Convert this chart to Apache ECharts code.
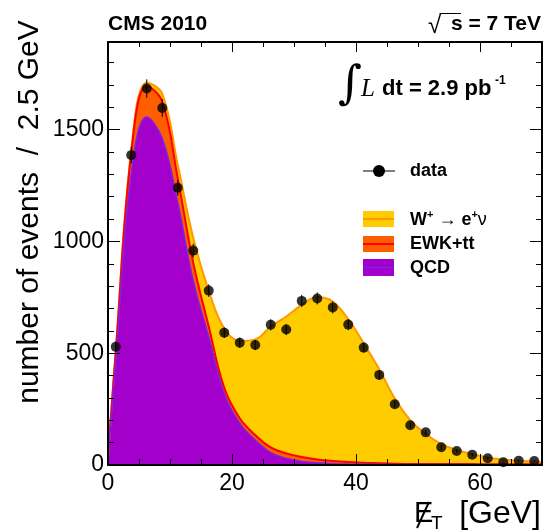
<!DOCTYPE html>
<html>
<head>
<meta charset="utf-8">
<script src="https://cdn.jsdelivr.net/npm/echarts@6/dist/echarts.min.js"></script>
<style>
  html, body { margin: 0; padding: 0; background: #fff; }
  #chart { width: 544px; height: 532px; }
</style>
</head>
<body>
<div id="chart"></div>
<script>
// data points (bin centres, 2.5 GeV bins)
var binCenters = [1.25, 3.75, 6.25, 8.75, 11.25, 13.75, 16.25, 18.75, 21.25, 23.75, 26.25, 28.75, 31.25, 33.75,
  36.25, 38.75, 41.25, 43.75, 46.25, 48.75, 51.25, 53.75, 56.25, 58.75, 61.25, 63.75, 66.25, 68.75];
var dataCounts = [529, 1386, 1684, 1597, 1240, 959, 780, 592, 547, 537, 627, 606, 734, 745,
  705, 628, 525, 403, 272, 178, 146, 79, 63, 46, 30, 12, 19, 18];
var dataErrors = [23, 37, 41, 40, 35, 31, 28, 24, 23, 23, 25, 25, 27, 27,
  27, 25, 23, 20, 16, 13, 12, 9, 8, 7, 5, 3, 4, 4];

// smoothed MC curves, per component (QCD, EWK+tt, W -> e nu)
var mcX = [0, 1.25, 3.75, 6.25, 8.75, 11.25, 13.75, 16.25, 18.75, 21.25, 23.75, 26.25, 28.75, 31.25, 33.75,
  36.25, 38.75, 41.25, 43.75, 46.25, 48.75, 51.25, 53.75, 56.25, 58.75, 61.25, 63.75, 66.25, 68.75, 70];
var qcd = [35, 470, 1305, 1556, 1460, 1173, 825, 574, 320, 187, 112, 55, 30, 16, 10,
  6, 4, 3, 3, 2, 2, 2, 2, 2, 2, 2, 2, 2, 2, 2];
var ewk = [5, 35, 89, 139, 165, 110, 80, 45, 25, 22, 22, 24, 22, 20, 15,
  12, 9, 7, 5, 4, 3, 3, 2, 2, 2, 1, 1, 1, 1, 1];
var wenu = [2, 8, 15, 15, 35, 60, 110, 160, 265, 346, 428, 540, 612, 680, 726,
  713, 639, 535, 420, 292, 196, 134, 90, 63, 45, 31, 22, 16, 12, 10];

var xMax = 70, yMax = 1892;
var font = "'Liberation Sans', Arial, Helvetica, sans-serif";

var cQcd = '#a400cc', cQcdLine = '#7a22e6';
var cEwk = '#ff5e00', cEwkLine = '#ff0000';
var cW = '#ffcc00', cWLine = '#ff9900';

// stack by hand: each layer is drawn opaque from zero, top layer first
var ewkTop = qcd.map(function(v, i) { return v + ewk[i]; });
var total = ewkTop.map(function(v, i) { return v + wenu[i]; });

function pairs(xs, ys) { return xs.map(function(x, i) { return [x, ys[i]]; }); }

var chart = echarts.init(document.getElementById('chart'), null, { renderer: 'canvas' });

var tickLabel = { color: '#000', fontFamily: font, fontSize: 23 };
function fmt(v) { return String(v); }
function frameLine(show) { return { show: show, onZero: false, lineStyle: { color: '#000', width: 2 } }; }
function ticks(len) { return { show: true, inside: true, length: len, lineStyle: { color: '#000', width: 1 } }; }

chart.setOption({
  animation: false,
  backgroundColor: '#fff',
  grid: { left: 108, right: 2, top: 42, bottom: 67, containLabel: false },
  xAxis: [
    { type: 'value', position: 'bottom', min: 0, max: xMax, interval: 20, z: 10,
      axisLine: frameLine(true), axisTick: ticks(11),
      axisLabel: Object.assign({ margin: 7, showMaxLabel: false, formatter: fmt }, tickLabel),
      splitLine: { show: false } },
    { type: 'value', position: 'bottom', min: 0, max: xMax, interval: 5, z: 10,
      axisLine: frameLine(false), axisTick: ticks(6), axisLabel: { show: false }, splitLine: { show: false } },
    { type: 'value', position: 'top', min: 0, max: xMax, interval: 20, z: 10,
      axisLine: frameLine(true), axisTick: ticks(10), axisLabel: { show: false }, splitLine: { show: false } },
    { type: 'value', position: 'top', min: 0, max: xMax, interval: 5, z: 10,
      axisLine: frameLine(false), axisTick: ticks(5), axisLabel: { show: false }, splitLine: { show: false } }
  ],
  yAxis: [
    { type: 'value', position: 'left', min: 0, max: yMax, interval: 500, z: 10,
      axisLine: frameLine(true), axisTick: ticks(12),
      axisLabel: Object.assign({ margin: 4, showMaxLabel: false, formatter: fmt }, tickLabel),
      splitLine: { show: false } },
    { type: 'value', position: 'left', min: 0, max: yMax, interval: 100, z: 10,
      axisLine: frameLine(false), axisTick: ticks(6), axisLabel: { show: false }, splitLine: { show: false } },
    { type: 'value', position: 'right', min: 0, max: yMax, interval: 500, z: 10,
      axisLine: frameLine(true), axisTick: ticks(12), axisLabel: { show: false }, splitLine: { show: false } },
    { type: 'value', position: 'right', min: 0, max: yMax, interval: 100, z: 10,
      axisLine: frameLine(false), axisTick: ticks(6), axisLabel: { show: false }, splitLine: { show: false } }
  ],
  series: [
    { name: 'W', type: 'line', smooth: 0.4, showSymbol: false, z: 2, data: pairs(mcX, total),
      lineStyle: { color: cWLine, width: 2 }, areaStyle: { color: cW, opacity: 1 } },
    { name: 'EWK+tt', type: 'line', smooth: 0.4, showSymbol: false, z: 2, data: pairs(mcX, ewkTop),
      lineStyle: { color: cEwkLine, width: 2 }, areaStyle: { color: cEwk, opacity: 1 } },
    { name: 'QCD', type: 'line', smooth: 0.4, showSymbol: false, z: 2, data: pairs(mcX, qcd),
      lineStyle: { color: cQcdLine, width: 1.5 }, areaStyle: { color: cQcd, opacity: 1 } },
    { name: 'err', type: 'custom', z: 4,
      data: binCenters.map(function(x, i) { return [x, dataCounts[i], dataErrors[i]]; }),
      renderItem: function(params, api) {
        var hi = api.coord([api.value(0), api.value(1) + api.value(2)]);
        var lo = api.coord([api.value(0), api.value(1) - api.value(2)]);
        return { type: 'line', shape: { x1: hi[0], y1: hi[1], x2: lo[0], y2: lo[1] },
          style: { stroke: '#000', lineWidth: 1 } };
      } },
    { name: 'data', type: 'scatter', z: 5, symbol: 'circle', symbolSize: 10,
      data: pairs(binCenters, dataCounts), itemStyle: { color: '#000' } }
  ],
  graphic: [
    // header
    { type: 'text', x: 108, y: 24, style: { text: 'CMS 2010', font: 'bold 21px ' + font, fill: '#000', align: 'left', verticalAlign: 'middle' } },
    { type: 'text', x: 428, y: 26, style: { text: '\u221a', font: '24px ' + font, fill: '#000', align: 'left', verticalAlign: 'middle' } },
    { type: 'line', shape: { x1: 439.5, y1: 13.5, x2: 461, y2: 13.5 }, style: { stroke: '#000', lineWidth: 1 } },
    { type: 'text', x: 541, y: 24, style: { text: 's = 7 TeV', font: 'bold 21px ' + font, fill: '#000', align: 'right', verticalAlign: 'middle' } },
    // luminosity
    { type: 'text', x: 338, y: 86, style: { text: '\u222b', font: '46px "DejaVu Serif", serif', fill: '#000', align: 'left', verticalAlign: 'middle' } },
    { type: 'text', x: 361, y: 89, style: { text: 'L', font: 'italic 25px "Liberation Serif", serif', fill: '#000', align: 'left', verticalAlign: 'middle' } },
    { type: 'text', x: 382, y: 89, style: { text: 'dt = 2.9 pb', font: 'bold 22px ' + font, fill: '#000', align: 'left', verticalAlign: 'middle' } },
    { type: 'text', x: 495, y: 81, style: { text: '-1', font: 'bold 12px ' + font, fill: '#000', align: 'left', verticalAlign: 'middle' } },
    // legend
    { type: 'line', shape: { x1: 363, y1: 171, x2: 395, y2: 171 }, style: { stroke: '#000', lineWidth: 1 } },
    { type: 'circle', shape: { cx: 379, cy: 171, r: 6 }, style: { fill: '#000' } },
    { type: 'text', x: 410, y: 171, style: { text: 'data', font: 'bold 18px ' + font, fill: '#000', align: 'left', verticalAlign: 'middle' } },
    { type: 'rect', shape: { x: 363, y: 211, width: 31, height: 16 }, style: { fill: cW } },
    { type: 'line', shape: { x1: 363, y1: 219, x2: 394, y2: 219 }, style: { stroke: cWLine, lineWidth: 2 } },
    { type: 'rect', shape: { x: 363, y: 236, width: 31, height: 16 }, style: { fill: cEwk } },
    { type: 'line', shape: { x1: 363, y1: 244, x2: 394, y2: 244 }, style: { stroke: cEwkLine, lineWidth: 2 } },
    { type: 'rect', shape: { x: 363, y: 259, width: 31, height: 17 }, style: { fill: cQcd } },
    { type: 'line', shape: { x1: 363, y1: 267.5, x2: 394, y2: 267.5 }, style: { stroke: cQcdLine, lineWidth: 1.5 } },
    { type: 'text', x: 410, y: 220, style: {
        text: '{b|W}{s|+}{n| \u2192 }{b|e}{s|+}{g|\u03bd}', align: 'left', verticalAlign: 'middle', fill: '#000',
        rich: {
          b: { font: 'bold 18px ' + font, fill: '#000' },
          s: { font: 'bold 11px ' + font, fill: '#000', verticalAlign: 'top', lineHeight: 22 },
          n: { font: '18px ' + font, fill: '#000' },
          g: { font: '18px ' + font, fill: '#000' }
        } } },
    { type: 'text', x: 410, y: 244, style: { text: 'EWK+tt', font: 'bold 18px ' + font, fill: '#000', align: 'left', verticalAlign: 'middle' } },
    { type: 'text', x: 410, y: 268, style: { text: 'QCD', font: 'bold 18px ' + font, fill: '#000', align: 'left', verticalAlign: 'middle' } },
    // axis titles
    { type: 'text', x: 30, y: 212, rotation: Math.PI / 2, style: { text: 'number of events  /  2.5 GeV', font: '30px ' + font, fill: '#000', align: 'center', verticalAlign: 'middle' } },
    { type: 'text', x: 414, y: 514, style: { text: 'E', font: '29px ' + font, fill: '#000', align: 'left', verticalAlign: 'middle' } },
    { type: 'line', shape: { x1: 417, y1: 528, x2: 429, y2: 502 }, style: { stroke: '#000', lineWidth: 2 } },
    { type: 'text', x: 431, y: 524, style: { text: 'T', font: '19px ' + font, fill: '#000', align: 'left', verticalAlign: 'middle' } },
    { type: 'text', x: 541, y: 514, style: { text: '[GeV]', font: '32px ' + font, fill: '#000', align: 'right', verticalAlign: 'middle' } }
  ]
});
window.addEventListener('resize', function() { chart.resize(); });
</script>
</body>
</html>
